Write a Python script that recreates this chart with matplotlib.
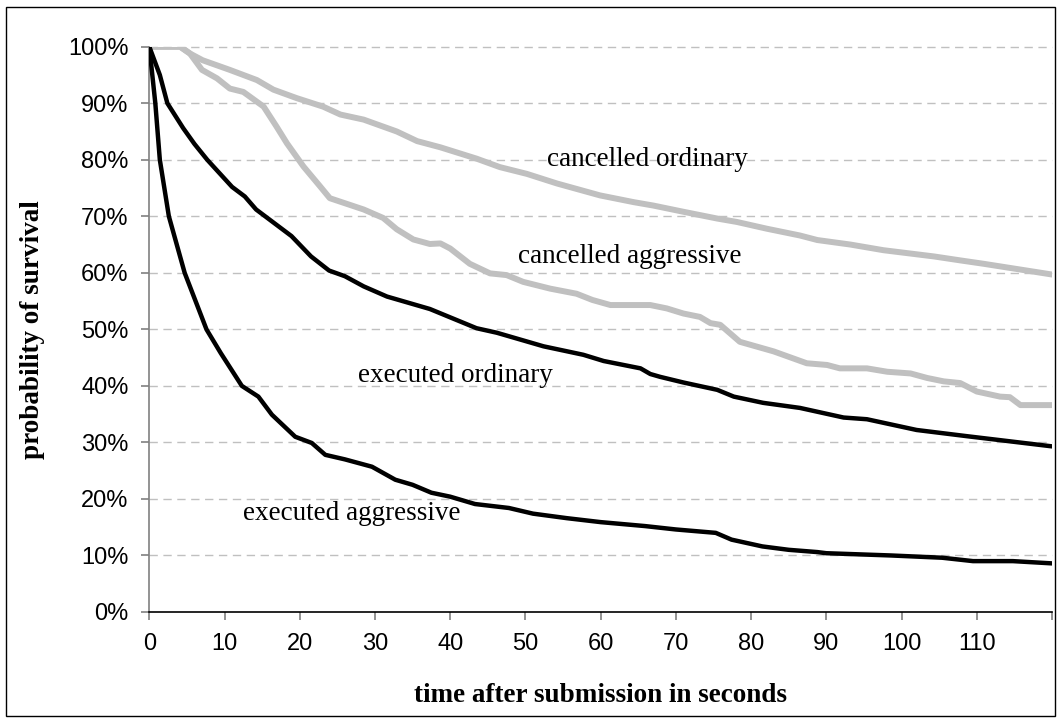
import matplotlib
matplotlib.use("Agg")
import matplotlib.pyplot as plt
from matplotlib.patches import Rectangle
from matplotlib.ticker import FuncFormatter

# ---- data (time in seconds, survival in %) ----
ea_t = [0, 0.8, 1.4, 2.6, 4.7, 7.6, 9.5, 12.3, 14.5, 16.3, 19.4, 21.6, 23.4, 26, 29.6,
        32.7, 35, 37.5, 40, 43.3, 47.8, 51, 55.5, 60, 65.9, 70, 75.3, 77.4, 81.5, 85,
        88.8, 90, 98.6, 102, 105.4, 109.5, 114.8, 120]
ea_v = [100, 90, 80, 70, 60, 50, 45.8, 40, 38.1, 34.9, 31, 29.9, 27.8, 27, 25.7,
        23.4, 22.5, 21.1, 20.4, 19.1, 18.4, 17.4, 16.6, 15.9, 15.2, 14.6, 14.0, 12.8, 11.6, 11.0,
        10.6, 10.4, 10.0, 9.8, 9.6, 9.0, 9.0, 8.6]

eo_t = [0, 1.4, 2.4, 4.5, 6, 7.7, 11, 12.7, 14.2, 15.4, 16.3, 18.9, 21.5, 23.9, 26,
        28.5, 31.6, 37.3, 40.4, 43.5, 46.2, 52.4, 57.7, 60.4, 65.3, 66.6, 67.9, 71, 75.5,
        77.7, 81.6, 86.5, 92.3, 95.4, 102, 108.7, 113.1, 120]
eo_v = [100, 95, 90, 85.6, 82.8, 80, 75.2, 73.5, 71.2, 70, 69.1, 66.5, 62.9, 60.4, 59.4,
        57.6, 55.8, 53.6, 51.9, 50.2, 49.4, 47.0, 45.5, 44.4, 43.1, 42.1, 41.6, 40.6, 39.3,
        38.1, 37.0, 36.1, 34.4, 34.1, 32.2, 31.1, 30.4, 29.3]

co_t = [0, 4.1, 5.4, 7.1, 10.7, 14.3, 16.5, 19.6, 23.1, 25.4, 28.5, 32.9, 35.6, 38.7,
        43.5, 46.6, 50.2, 54.2, 59.9, 64.4, 67, 71, 75.5, 78.1, 82.1, 86.5, 88.8, 93.2,
        97.6, 104.3, 107.8, 110.9, 120]
co_v = [100, 100, 98.8, 97.6, 95.9, 94.1, 92.4, 90.9, 89.4, 88, 87.1, 85.0, 83.3, 82.2,
        80.2, 78.7, 77.5, 75.8, 73.7, 72.5, 71.9, 70.8, 69.6, 69.0, 67.8, 66.6, 65.8, 65.0,
        64.0, 62.9, 62.2, 61.6, 59.7]

ca_t = [0, 4.1, 5.4, 7, 9, 10.7, 12.5, 15.2, 16.9, 18.3, 20.5, 22.7, 24, 25.8, 28.5,
        31.1, 32.9, 35.1, 37.3, 38.7, 40, 42.6, 45.3, 47.5, 49.7, 53.3, 56.8, 58.9, 61.3,
        66.6, 68.8, 71, 73.2, 74.6, 75.9, 78.5, 83, 87.4, 90.1, 91.8, 95.4, 98.1, 101.2,
        103.4, 105.6, 107.8, 110, 113.1, 114.4, 115.8, 120]
ca_v = [100, 100, 98.8, 95.9, 94.4, 92.6, 92, 89.4, 85.9, 82.9, 78.8, 75.3, 73.2, 72.4, 71.2,
        69.7, 67.7, 65.9, 65.1, 65.2, 64.3, 61.6, 59.9, 59.6, 58.4, 57.2, 56.3, 55.2, 54.3,
        54.3, 53.7, 52.8, 52.2, 51.1, 50.8, 47.8, 46.1, 44.0, 43.7, 43.1, 43.1, 42.5, 42.2,
        41.4, 40.8, 40.5, 39, 38.1, 38, 36.6, 36.6]

x_ticks = list(range(0, 121, 10))
x_labels = [str(v) for v in range(0, 111, 10)] + [""]
y_ticks = list(range(0, 101, 10))

labels = ["cancelled ordinary", "cancelled aggressive", "executed ordinary", "executed aggressive"]
label_pos = [(52.9, 80.1), (49.0, 62.9), (27.8, 41.9), (12.5, 17.5)]

# ---- figure ----
fig = plt.figure(figsize=(10.61, 7.22), dpi=100)
ax = fig.add_axes([149.3 / 1061, 1 - 612 / 722, (1052 - 149.3) / 1061, (612 - 46.7) / 722])

grey = "#c0c0c0"
ax.plot(co_t, co_v, color=grey, lw=4.3, solid_capstyle="round", solid_joinstyle="round", zorder=3)
ax.plot(ca_t, ca_v, color=grey, lw=4.3, solid_capstyle="round", solid_joinstyle="round", zorder=3)
ax.plot(eo_t, eo_v, color="black", lw=3.2, solid_capstyle="round", solid_joinstyle="round", zorder=4)
ax.plot(ea_t, ea_v, color="black", lw=3.2, solid_capstyle="round", solid_joinstyle="round", zorder=4)

ax.set_xlim(0, 120)
ax.set_ylim(0, 100)
ax.set_xticks(x_ticks)
ax.set_xticklabels(x_labels)
ax.set_yticks(y_ticks)
ax.yaxis.set_major_formatter(FuncFormatter(lambda v, p: f"{int(v)}%"))

for y in y_ticks[1:]:
    ax.axhline(y, color="#c0c0c0", lw=1.0, linestyle=(0, (6, 4)), zorder=1, clip_on=False)

for s in ["top", "right"]:
    ax.spines[s].set_visible(False)
ax.spines["left"].set_color("#808080")
ax.spines["left"].set_linewidth(1.2)
ax.spines["bottom"].set_color("black")
ax.spines["bottom"].set_linewidth(1.2)

ax.tick_params(axis="both", direction="out", length=6, width=1.2, color="#808080")
ax.tick_params(axis="y", pad=9)
ax.tick_params(axis="x", pad=9)
for lab in ax.get_xticklabels() + ax.get_yticklabels():
    lab.set_fontfamily(["Liberation Sans", "DejaVu Sans"])
    lab.set_fontsize(17)

serif = ["Liberation Serif", "DejaVu Serif"]
fig.text(600 / 1061, 1 - 695 / 722, "time after submission in seconds", fontfamily=serif,
         fontweight="bold", fontsize=19.5, ha="center", va="center")
fig.text(33 / 1061, 1 - 330 / 722, "probability of survival", fontfamily=serif,
         fontweight="bold", fontsize=19.5, ha="center", va="center", rotation=90)

for txt, (tx, ty) in zip(labels, label_pos):
    ax.text(tx, ty, txt, fontfamily=serif, fontsize=19.5, ha="left", va="center", zorder=5)

fig.add_artist(Rectangle((6 / 1061, 1 - 716 / 722), (1055 - 6) / 1061, (716 - 7) / 722,
                         transform=fig.transFigure, fill=False, edgecolor="black", lw=1.0))

fig.savefig("out.png", dpi=100, facecolor="white")
